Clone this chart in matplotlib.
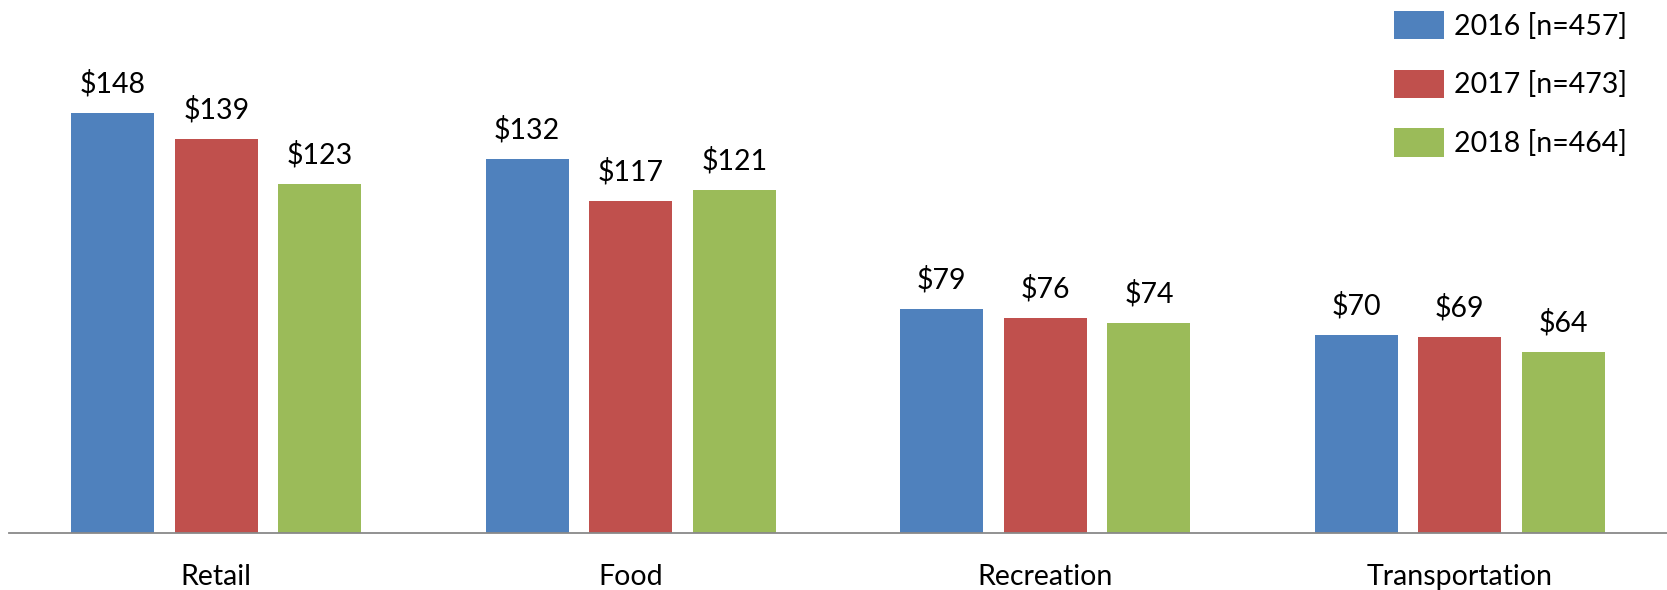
import numpy as np
import matplotlib
matplotlib.use("Agg")
import matplotlib.pyplot as plt

categories = ["Retail", "Food", "Recreation", "Transportation"]
years = ["2016 [n=457]", "2017 [n=473]", "2018 [n=464]"]
vals_2016 = [148, 132, 79, 70]
vals_2017 = [139, 117, 76, 69]
vals_2018 = [123, 121, 74, 64]
colors = ["#4F81BD", "#C0504D", "#9BBB59"]

plt.rcParams["font.family"] = ["Lato", "DejaVu Sans"]

fig = plt.figure(figsize=(16.67, 5.9), dpi=100)
ax = fig.add_axes([9 / 1667, 1 - 533 / 590, 1 - 9 / 1667, 533 / 590])

x = np.arange(len(categories))
width = 0.2
step = 0.25
series = [vals_2016, vals_2017, vals_2018]
for i, (vals, lab, col) in enumerate(zip(series, years, colors)):
    pos = x + (i - 1) * step
    ax.bar(pos, vals, width, color=col, label=lab)
    for xp, v in zip(pos, vals):
        ax.annotate(f"${v}", (xp, v), xytext=(0, 21), textcoords="offset points",
                    ha="center", va="center", fontsize=20.5)

ax.set_xlim(-0.5, 3.5)
ax.set_ylim(0, 188)
ax.set_xticks(x)
ax.set_xticklabels(categories, fontsize=20.5)
ax.tick_params(axis="x", length=0, pad=22)
ax.set_yticks([])
for s in ["top", "right", "left"]:
    ax.spines[s].set_visible(False)
ax.spines["bottom"].set_color("#898989")
ax.spines["bottom"].set_linewidth(1.3)

ax.legend(loc="upper left", bbox_to_anchor=(1394 / 1667, 1 - 11 / 590),
          bbox_transform=fig.transFigure, frameon=False, fontsize=20.5,
          handlelength=1.75, handleheight=1.15, handletextpad=0.36,
          labelspacing=1.05, borderpad=0, borderaxespad=0)

fig.savefig("out.png", dpi=100)
